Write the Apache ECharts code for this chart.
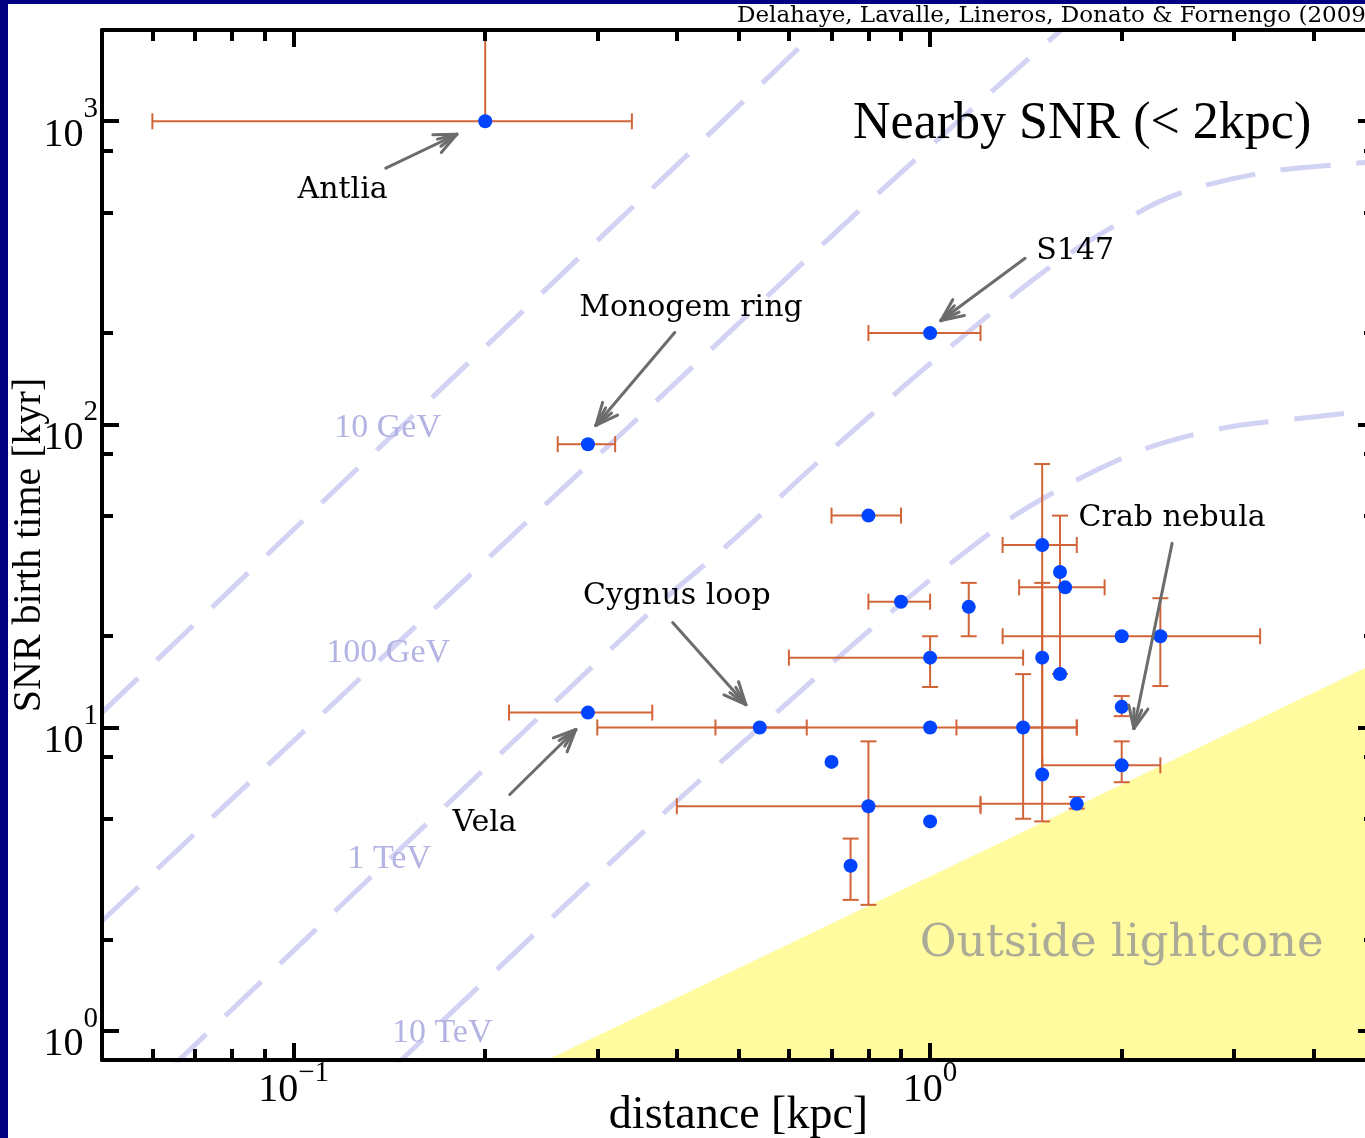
<!DOCTYPE html>
<html>
<head>
<meta charset="utf-8">
<script src="https://cdn.jsdelivr.net/npm/echarts@6/dist/echarts.min.js"></script>
<style>
  html, body { margin: 0; padding: 0; width: 1365px; height: 1138px; overflow: hidden; background: #000080; }
  #chart { position: absolute; left: 8px; top: 4px; width: 1357px; height: 1134px; background: #ffffff; }
</style>
</head>
<body>
<div id="chart"></div>
<script>
// ---- axis ranges and ticks (distance in kpc, age in kyr) ----
const distRange = [0.05, 5];
const ageRange = [0.8, 2000];
const distMajorTicks = [0.1, 1];
const distMinorTicks = [0.06, 0.07, 0.08, 0.09, 0.2, 0.3, 0.4, 0.5, 0.6, 0.7, 0.8, 0.9, 2, 3, 4];
const ageMajorTicks = [1, 10, 100, 1000];
const ageMinorTicks = [2, 5, 8, 20, 50, 80, 200, 500, 800];

// ---- nearby supernova remnants: distance, age and uncertainty ranges ----
const snrDist  = [0.2, 0.29, 1.0, 0.29, 0.54, 1.0, 1.4, 0.7, 0.8, 0.75, 1.0, 0.8, 0.9, 1.15, 1.0, 1.5, 1.5, 1.6, 1.63, 1.6, 2.0, 2.3, 2.0, 2.0, 1.5, 1.7];
const snrAge   = [1000, 86, 200, 11.2, 10, 10, 10, 7.7, 5.5, 3.5, 4.9, 50, 26, 25, 17, 40, 17, 32.6, 29, 15, 20, 20, 11.7, 7.5, 7.0, 5.6];
const distLow  = [0.06, 0.26, 0.8, 0.218, 0.46, 0.3, 1.1, null, 0.4, null, null, 0.7, 0.8, null, 0.6, 1.3, null, null, 1.38, null, null, 1.3, null, 1.5, null, 1.2];
const distHigh = [0.34, 0.32, 1.2, 0.366, 0.64, 1.7, 1.7, null, 1.2, null, null, 0.9, 1.0, null, 1.4, 1.7, null, null, 1.88, null, null, 3.3, null, 2.3, null, 1.7];
const ageLow   = [1000, null, null, null, null, null, 5, null, 2.6, 2.7, null, null, null, 20, 13.6, null, 4.9, 15, null, null, null, 13.7, 10.9, 6.6, 7.0, 5.4];
const ageHigh  = [2000, null, null, null, null, null, 15, null, 9.0, 4.3, null, null, null, 30, 20, null, 74, 50, null, null, null, 26.7, 12.7, 9.0, 30, 5.9];

// ---- propagation horizons for a given electron energy (distance kpc, age kyr) ----
const horizon10GeV  = [[0.05, 11.2], [0.1, 45], [0.2, 180], [0.409, 750], [0.69, 2150]];
const horizon100GeV = [[0.05, 2.3], [0.218, 42], [0.366, 116], [0.754, 483], [1.39, 1530], [1.67, 2150]];
const horizon1TeV   = [[0.064, 0.75], [0.366, 24.4], [0.487, 41], [0.68, 78], [1.03, 167], [1.585, 344], [2.19, 518], [2.6, 600], [3.44, 684], [4.62, 726], [5.2, 738]];
const horizon10TeV  = [[0.14, 0.72], [0.373, 5.0], [0.54, 10], [0.851, 23.2], [1.30, 47], [1.68, 64.7], [2.19, 83.4], [2.87, 97], [3.8, 104.6], [4.78, 110], [5.2, 111]];
const energyNames   = ['10 GeV', '100 GeV', '1 TeV', '10 TeV'];
const energyLabelAt = [[0.1405, 99], [0.1408, 17.9], [0.1413, 3.74], [0.1712, 1.0]];

// ---- causal limit: age = distance / c ----
const lightconeEdge = [[0.25, 0.8], [5, 16.3]];
const lightconeName = 'Outside lightcone';
const lightconeLabelAt = [2.0, 1.98];

// ---- named remnants ----
const noteNames = ['Antlia', 'Monogem ring', 'S147', 'Cygnus loop', 'Vela', 'Crab nebula'];
const noteAt    = [[0.1194, 610], [0.421, 249], [1.69, 384], [0.400, 27.9], [0.1996, 4.97], [2.40, 50.5]];
const arrowFrom = [[0.1396, 700], [0.397, 201], [1.41, 353], [0.394, 22.2], [0.2186, 6.01], [2.40, 40.5]];
const arrowTo   = [[0.1805, 906], [0.2985, 99.2], [1.04, 220], [0.5135, 11.9], [0.2776, 9.85], [2.09, 9.92]];

// ---- styling ----
const LOG = Math.log10;
const SERIF = '"Liberation Serif", "Times New Roman", serif';
const SERIF_WIDE = '"DejaVu Serif", serif';
const ERR_COLOR = '#d2643a';
const DOT_COLOR = '#0044ff';
const HORIZON_COLOR = '#d2d2f4';
const HORIZON_TEXT = '#b3b3e4';
const LIGHTCONE_FILL = '#fffb9e';
const ARROW_COLOR = '#6c6c6c';
const CAP = 8;

const toLog = p => [LOG(p[0]), LOG(p[1])];
const expText = v => { const n = Math.round(v); return n < 0 ? '\u2212' + (-n) : String(n); };
// power-of-ten labels: base line height controls how far the exponent is raised
const powRich = baseLine => ({
  b: { fontFamily: SERIF, fontSize: 40, lineHeight: baseLine, verticalAlign: 'bottom', color: '#000' },
  s: { fontFamily: SERIF, fontSize: 29, lineHeight: 29, verticalAlign: 'top', color: '#000' }
});
const powFormatter = v => '{b|10}{s|' + expText(v) + '}';

function axis(kind, position, ticks, tickLen, withLine, label, extra) {
  const range = kind === 'x' ? distRange : ageRange;
  const ax = {
    type: 'value', position, min: LOG(range[0]), max: LOG(range[1]), z: 10,
    splitLine: { show: false },
    axisLine: { show: withLine, onZero: false, lineStyle: { color: '#000', width: 4 } },
    axisTick: { show: true, inside: true, length: tickLen, customValues: ticks.map(LOG), lineStyle: { color: '#000', width: 4 } },
    axisLabel: label ? Object.assign({ show: true, customValues: ticks.map(LOG) }, label) : { show: false }
  };
  return Object.assign(ax, extra || {});
}

const xAxes = [
  axis('x', 'bottom', distMajorTicks, 17, true, { margin: -1, formatter: powFormatter, rich: powRich(51) }, {
    name: 'distance [kpc]', nameLocation: 'middle', nameGap: 33, nameMoveOverlap: false,
    nameTextStyle: { fontFamily: SERIF, fontSize: 46, color: '#000' }
  }),
  axis('x', 'bottom', distMinorTicks, 11, false, null),
  axis('x', 'top', distMajorTicks, 17, true, null),
  axis('x', 'top', distMinorTicks, 11, false, null)
];
const yAxes = [
  axis('y', 'left', ageMajorTicks, 17, true, { margin: 4, padding: [8, 0, 0, 0], formatter: powFormatter, rich: powRich(60) }, {
    name: 'SNR birth time [kyr]', nameLocation: 'middle', nameGap: 53, nameMoveOverlap: false,
    nameTextStyle: { fontFamily: SERIF, fontSize: 40, color: '#000' }
  }),
  axis('y', 'left', ageMinorTicks, 11, false, null),
  axis('y', 'right', ageMajorTicks, 17, true, null),
  axis('y', 'right', ageMinorTicks, 11, false, null)
];

function horizonSeries(points) {
  return {
    type: 'line', data: points.map(toLog), showSymbol: false, symbol: 'none',
    smooth: 0.3, clip: true, z: 2, silent: true,
    lineStyle: { color: HORIZON_COLOR, width: 5, type: [50, 26], cap: 'butt' }
  };
}

function textSeries(points, texts, font, color, z, dy) {
  return {
    type: 'custom', coordinateSystem: 'cartesian2d', silent: true, z,
    data: points.map(toLog),
    renderItem: (params, api) => {
      const p = api.coord([api.value(0), api.value(1)]);
      return { type: 'text', x: p[0], y: p[1] + (dy || 0),
        style: { text: texts[params.dataIndex], font, fill: color, align: 'center', verticalAlign: 'middle' } };
    }
  };
}

const na = v => (v == null ? '-' : LOG(v));
const errorData = snrDist.map((d, i) => [LOG(d), LOG(snrAge[i]), na(distLow[i]), na(distHigh[i]), na(ageLow[i]), na(ageHigh[i])]);

const errorBars = {
  type: 'custom', coordinateSystem: 'cartesian2d', silent: true, z: 4,
  data: errorData,
  renderItem: (params, api) => {
    const x = api.value(0), y = api.value(1);
    const c = api.coord([x, y]);
    const kids = [];
    const style = { stroke: ERR_COLOR, lineWidth: 2 };
    const seg = (x1, y1, x2, y2) => kids.push({ type: 'line', shape: { x1, y1, x2, y2 }, style });
    [2, 3].forEach(k => {
      const v = api.value(k);
      if (!isFinite(v)) return;
      const px = api.coord([v, y])[0];
      seg(px, c[1], c[0], c[1]);
      if (v !== x) seg(px, c[1] - CAP, px, c[1] + CAP);
    });
    [4, 5].forEach(k => {
      const v = api.value(k);
      if (!isFinite(v)) return;
      const py = api.coord([x, v])[1];
      seg(c[0], py, c[0], c[1]);
      if (v !== y) seg(c[0] - CAP, py, c[0] + CAP, py);
    });
    return { type: 'group', children: kids };
  }
};

const markers = {
  type: 'scatter', data: snrDist.map((d, i) => [LOG(d), LOG(snrAge[i])]),
  symbol: 'circle', symbolSize: 14, z: 5, silent: true,
  itemStyle: { color: DOT_COLOR, opacity: 1 }
};

const arrows = {
  type: 'custom', coordinateSystem: 'cartesian2d', silent: true, z: 6,
  data: arrowFrom.map((f, i) => [LOG(f[0]), LOG(f[1]), LOG(arrowTo[i][0]), LOG(arrowTo[i][1])]),
  renderItem: (params, api) => {
    const a = api.coord([api.value(0), api.value(1)]);
    const b = api.coord([api.value(2), api.value(3)]);
    const ang = Math.atan2(b[1] - a[1], b[0] - a[0]);
    const style = { stroke: ARROW_COLOR, lineWidth: 3, lineCap: 'round' };
    const kids = [{ type: 'line', shape: { x1: a[0], y1: a[1], x2: b[0], y2: b[1] }, style }];
    [[24, 0.42], [20, 0.2]].forEach(([len, spread]) => {
      [-1, 1].forEach(s => kids.push({ type: 'line', style,
        shape: { x1: b[0], y1: b[1], x2: b[0] - len * Math.cos(ang + s * spread), y2: b[1] - len * Math.sin(ang + s * spread) } }));
    });
    return { type: 'group', children: kids };
  }
};

const lightcone = {
  type: 'line', data: lightconeEdge.map(toLog), showSymbol: false, symbol: 'none', clip: true, z: 1, silent: true,
  lineStyle: { width: 0, color: LIGHTCONE_FILL },
  areaStyle: { color: LIGHTCONE_FILL, opacity: 1, origin: 'start' }
};

const chart = echarts.init(document.getElementById('chart'), null, { renderer: 'canvas' });
chart.setOption({
  animation: false,
  backgroundColor: '#ffffff',
  grid: { left: 94, top: 26, width: 1273, height: 1030, outerBoundsMode: 'none' },
  xAxis: xAxes,
  yAxis: yAxes,
  graphic: [
    { type: 'text', x: 845, y: 120, z: 20, silent: true,
      style: { text: 'Nearby SNR (< 2kpc)', font: '52px ' + SERIF, fill: '#000', align: 'left', verticalAlign: 'middle' } },
    { type: 'text', x: 729, y: 12, z: 20, silent: true,
      style: { text: 'Delahaye, Lavalle, Lineros, Donato & Fornengo (2009)', font: '23px ' + SERIF_WIDE, fill: '#000', align: 'left', verticalAlign: 'middle' } }
  ],
  series: [
    lightcone,
    horizonSeries(horizon10GeV),
    horizonSeries(horizon100GeV),
    horizonSeries(horizon1TeV),
    horizonSeries(horizon10TeV),
    textSeries(energyLabelAt, energyNames, '34px ' + SERIF, HORIZON_TEXT, 3, 2),
    textSeries([lightconeLabelAt], [lightconeName], '45px ' + SERIF_WIDE, '#abab97', 3, 4),
    errorBars,
    markers,
    arrows,
    textSeries(noteAt, noteNames, '30px ' + SERIF_WIDE, '#000', 7, 4)
  ]
});
</script>
</body>
</html>
